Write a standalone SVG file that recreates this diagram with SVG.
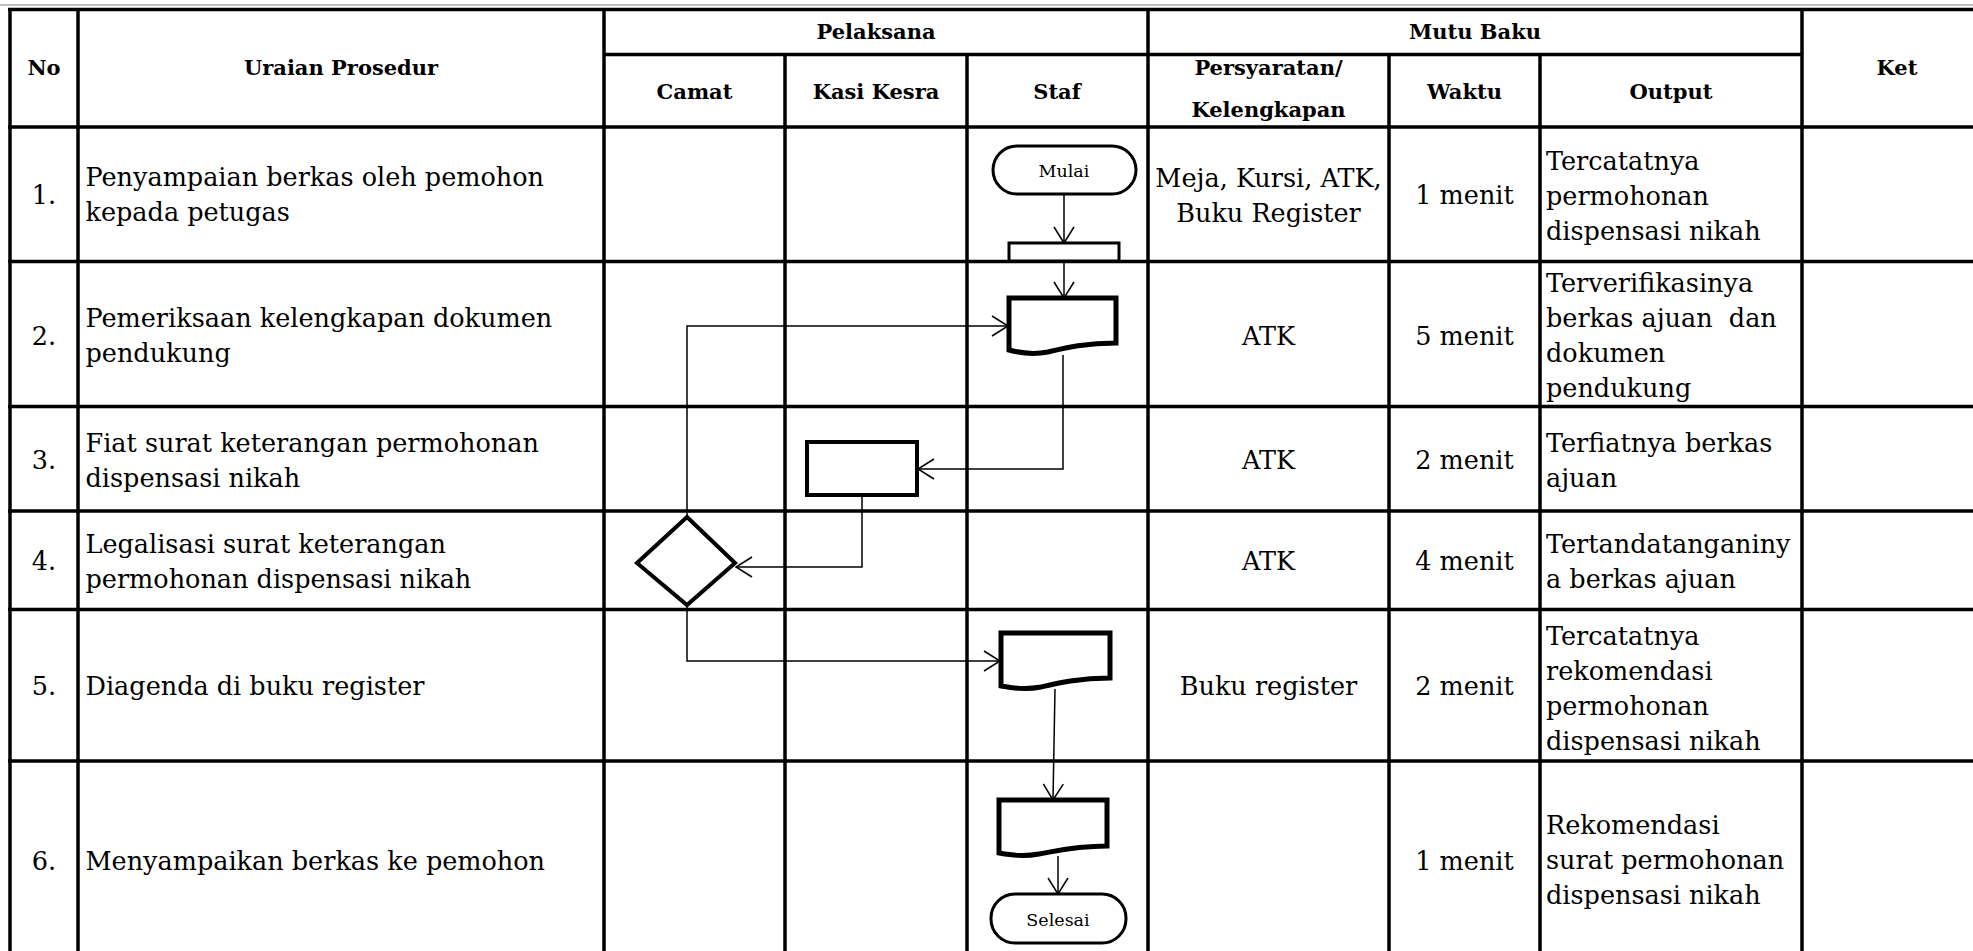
<svg xmlns="http://www.w3.org/2000/svg" width="1973" height="951" viewBox="0 0 1973 951">
<style>
.grid{stroke:#000;stroke-width:3.5;fill:none}
.hd{font-family:"DejaVu Serif","Liberation Serif",serif;font-weight:bold;font-size:21px;fill:#000;text-anchor:middle}
.t{font-family:"DejaVu Serif","Liberation Serif",serif;font-size:25.5px;fill:#000}
.c{text-anchor:middle}
.sm{font-family:"DejaVu Serif","Liberation Serif",serif;font-size:17.5px;fill:#000;text-anchor:middle}
.shape{fill:#fff;stroke:#000}
.conn{fill:none;stroke:#000;stroke-width:1.5}
</style>
<defs>
<marker id="arr" markerUnits="userSpaceOnUse" markerWidth="24" markerHeight="24" viewBox="-18 -12 20 24" refX="0" refY="0" orient="auto">
<path d="M-16,-10 L0,0 L-16,10" fill="none" stroke="#000" stroke-width="1.5"/>
</marker>
</defs>
<rect width="1973" height="951" fill="#fff"/>
<line x1="0" y1="5" x2="1973" y2="5" stroke="#aaa" stroke-width="1.5"/>
<g id="table" class="grid">
<line x1="8" y1="9.5" x2="1973" y2="9.5"/>
<line x1="604" y1="54.5" x2="1802" y2="54.5"/>
<line x1="8" y1="127" x2="1973" y2="127"/>
<line x1="8" y1="261.5" x2="1973" y2="261.5"/>
<line x1="8" y1="406.5" x2="1973" y2="406.5"/>
<line x1="8" y1="511" x2="1973" y2="511"/>
<line x1="8" y1="609.5" x2="1973" y2="609.5"/>
<line x1="8" y1="761" x2="1973" y2="761"/>
<line x1="10" y1="8" x2="10" y2="960"/>
<line x1="78" y1="8" x2="78" y2="960"/>
<line x1="604" y1="8" x2="604" y2="960"/>
<line x1="1148" y1="8" x2="1148" y2="960"/>
<line x1="1802" y1="8" x2="1802" y2="960"/>
<line x1="785" y1="54.5" x2="785" y2="960"/>
<line x1="967" y1="54.5" x2="967" y2="960"/>
<line x1="1389" y1="54.5" x2="1389" y2="960"/>
<line x1="1540" y1="54.5" x2="1540" y2="960"/>
</g>
<g id="headers">
<text class="hd" x="44" y="75">No</text>
<text class="hd" x="341" y="75">Uraian Prosedur</text>
<text class="hd" x="876" y="39">Pelaksana</text>
<text class="hd" x="1475" y="39">Mutu Baku</text>
<text class="hd" x="1897" y="75">Ket</text>
<text class="hd" x="694.5" y="98.5">Camat</text>
<text class="hd" x="876" y="98.5">Kasi Kesra</text>
<text class="hd" x="1057" y="98.5">Staf</text>
<text class="hd" x="1268.5" y="75">Persyaratan/</text>
<text class="hd" x="1268.5" y="117">Kelengkapan</text>
<text class="hd" x="1464.5" y="98.5">Waktu</text>
<text class="hd" x="1671" y="98.5">Output</text>
</g>
<g id="row1">
<text class="t c" x="44" y="204">1.</text>
<text class="t" x="85.5" y="186">Penyampaian berkas oleh pemohon</text>
<text class="t" x="85.5" y="221">kepada petugas</text>
<text class="t c" x="1268.5" y="187">Meja, Kursi, ATK,</text>
<text class="t c" x="1268.5" y="222">Buku Register</text>
<text class="t c" x="1464.5" y="204">1 menit</text>
<text class="t" x="1546" y="170">Tercatatnya</text>
<text class="t" x="1546" y="205">permohonan</text>
<text class="t" x="1546" y="240">dispensasi nikah</text>
</g>
<g id="row2">
<text class="t c" x="44" y="345">2.</text>
<text class="t" x="85.5" y="327">Pemeriksaan kelengkapan dokumen</text>
<text class="t" x="85.5" y="362">pendukung</text>
<text class="t c" x="1268.5" y="345">ATK</text>
<text class="t c" x="1464.5" y="345">5 menit</text>
<text class="t" x="1546" y="292">Terverifikasinya</text>
<text class="t" x="1546" y="327" xml:space="preserve">berkas ajuan  dan</text>
<text class="t" x="1546" y="362">dokumen</text>
<text class="t" x="1546" y="397">pendukung</text>
</g>
<g id="row3">
<text class="t c" x="44" y="469">3.</text>
<text class="t" x="85.5" y="452">Fiat surat keterangan permohonan</text>
<text class="t" x="85.5" y="487">dispensasi nikah</text>
<text class="t c" x="1268.5" y="469">ATK</text>
<text class="t c" x="1464.5" y="469">2 menit</text>
<text class="t" x="1546" y="452">Terfiatnya berkas</text>
<text class="t" x="1546" y="487">ajuan</text>
</g>
<g id="row4">
<text class="t c" x="44" y="570">4.</text>
<text class="t" x="85.5" y="553">Legalisasi surat keterangan</text>
<text class="t" x="85.5" y="588">permohonan dispensasi nikah</text>
<text class="t c" x="1268.5" y="570">ATK</text>
<text class="t c" x="1464.5" y="570">4 menit</text>
<text class="t" x="1546" y="553">Tertandatanganiny</text>
<text class="t" x="1546" y="588">a berkas ajuan</text>
</g>
<g id="row5">
<text class="t c" x="44" y="695">5.</text>
<text class="t" x="85.5" y="695">Diagenda di buku register</text>
<text class="t c" x="1268.5" y="695">Buku register</text>
<text class="t c" x="1464.5" y="695">2 menit</text>
<text class="t" x="1546" y="645">Tercatatnya</text>
<text class="t" x="1546" y="680">rekomendasi</text>
<text class="t" x="1546" y="715">permohonan</text>
<text class="t" x="1546" y="750">dispensasi nikah</text>
</g>
<g id="row6">
<text class="t c" x="44" y="870">6.</text>
<text class="t" x="85.5" y="870">Menyampaikan berkas ke pemohon</text>
<text class="t c" x="1464.5" y="870">1 menit</text>
<text class="t" x="1546" y="834">Rekomendasi</text>
<text class="t" x="1546" y="869">surat permohonan</text>
<text class="t" x="1546" y="904">dispensasi nikah</text>
</g>
<g id="connectors">
<path class="conn" d="M1064,194 V243" marker-end="url(#arr)"/>
<path class="conn" d="M1064,262 V298" marker-end="url(#arr)"/>
<path class="conn" d="M1063,355 V469 H918" marker-end="url(#arr)"/>
<path class="conn" d="M862,495 V567 H736" marker-end="url(#arr)"/>
<path class="conn" d="M687,517 V326 H1008" marker-end="url(#arr)"/>
<path class="conn" d="M687,605 V661 H1000" marker-end="url(#arr)"/>
<path class="conn" d="M1055,689 L1053,800" marker-end="url(#arr)"/>
<path class="conn" d="M1058,856 V894" marker-end="url(#arr)"/>
</g>
<g id="n-mulai">
<rect class="shape" x="993" y="146" width="143" height="48" rx="24" stroke-width="3"/>
<text class="sm" x="1064" y="177">Mulai</text>
</g>
<g id="n-terima">
<rect class="shape" x="1009" y="243" width="110" height="18" stroke-width="3"/>
</g>
<g id="n-periksa">
<path class="shape" stroke-width="5" d="M1009,298 H1116 V343 C1085,343 1065,348 1048,352 C1033,355 1020,353 1009,350 Z"/>
</g>
<g id="n-fiat">
<rect class="shape" x="807" y="442" width="110" height="53" stroke-width="4"/>
</g>
<g id="n-legalisasi">
<polygon class="shape" stroke-width="4" points="687,517 735,563 687,605 637,563"/>
</g>
<g id="n-agenda">
<path class="shape" stroke-width="5" d="M1001,633 H1110 V678 C1079,678 1058,683 1041,687 C1025,690 1013,688 1001,686 Z"/>
</g>
<g id="n-sampaikan">
<path class="shape" stroke-width="5" d="M999,800 H1107 V846 C1076,846 1056,851 1039,854 C1023,857 1011,855 999,853 Z"/>
</g>
<g id="n-selesai">
<rect class="shape" x="991" y="894" width="135" height="49" rx="24" stroke-width="3"/>
<text class="sm" x="1058" y="926">Selesai</text>
</g>
</svg>
